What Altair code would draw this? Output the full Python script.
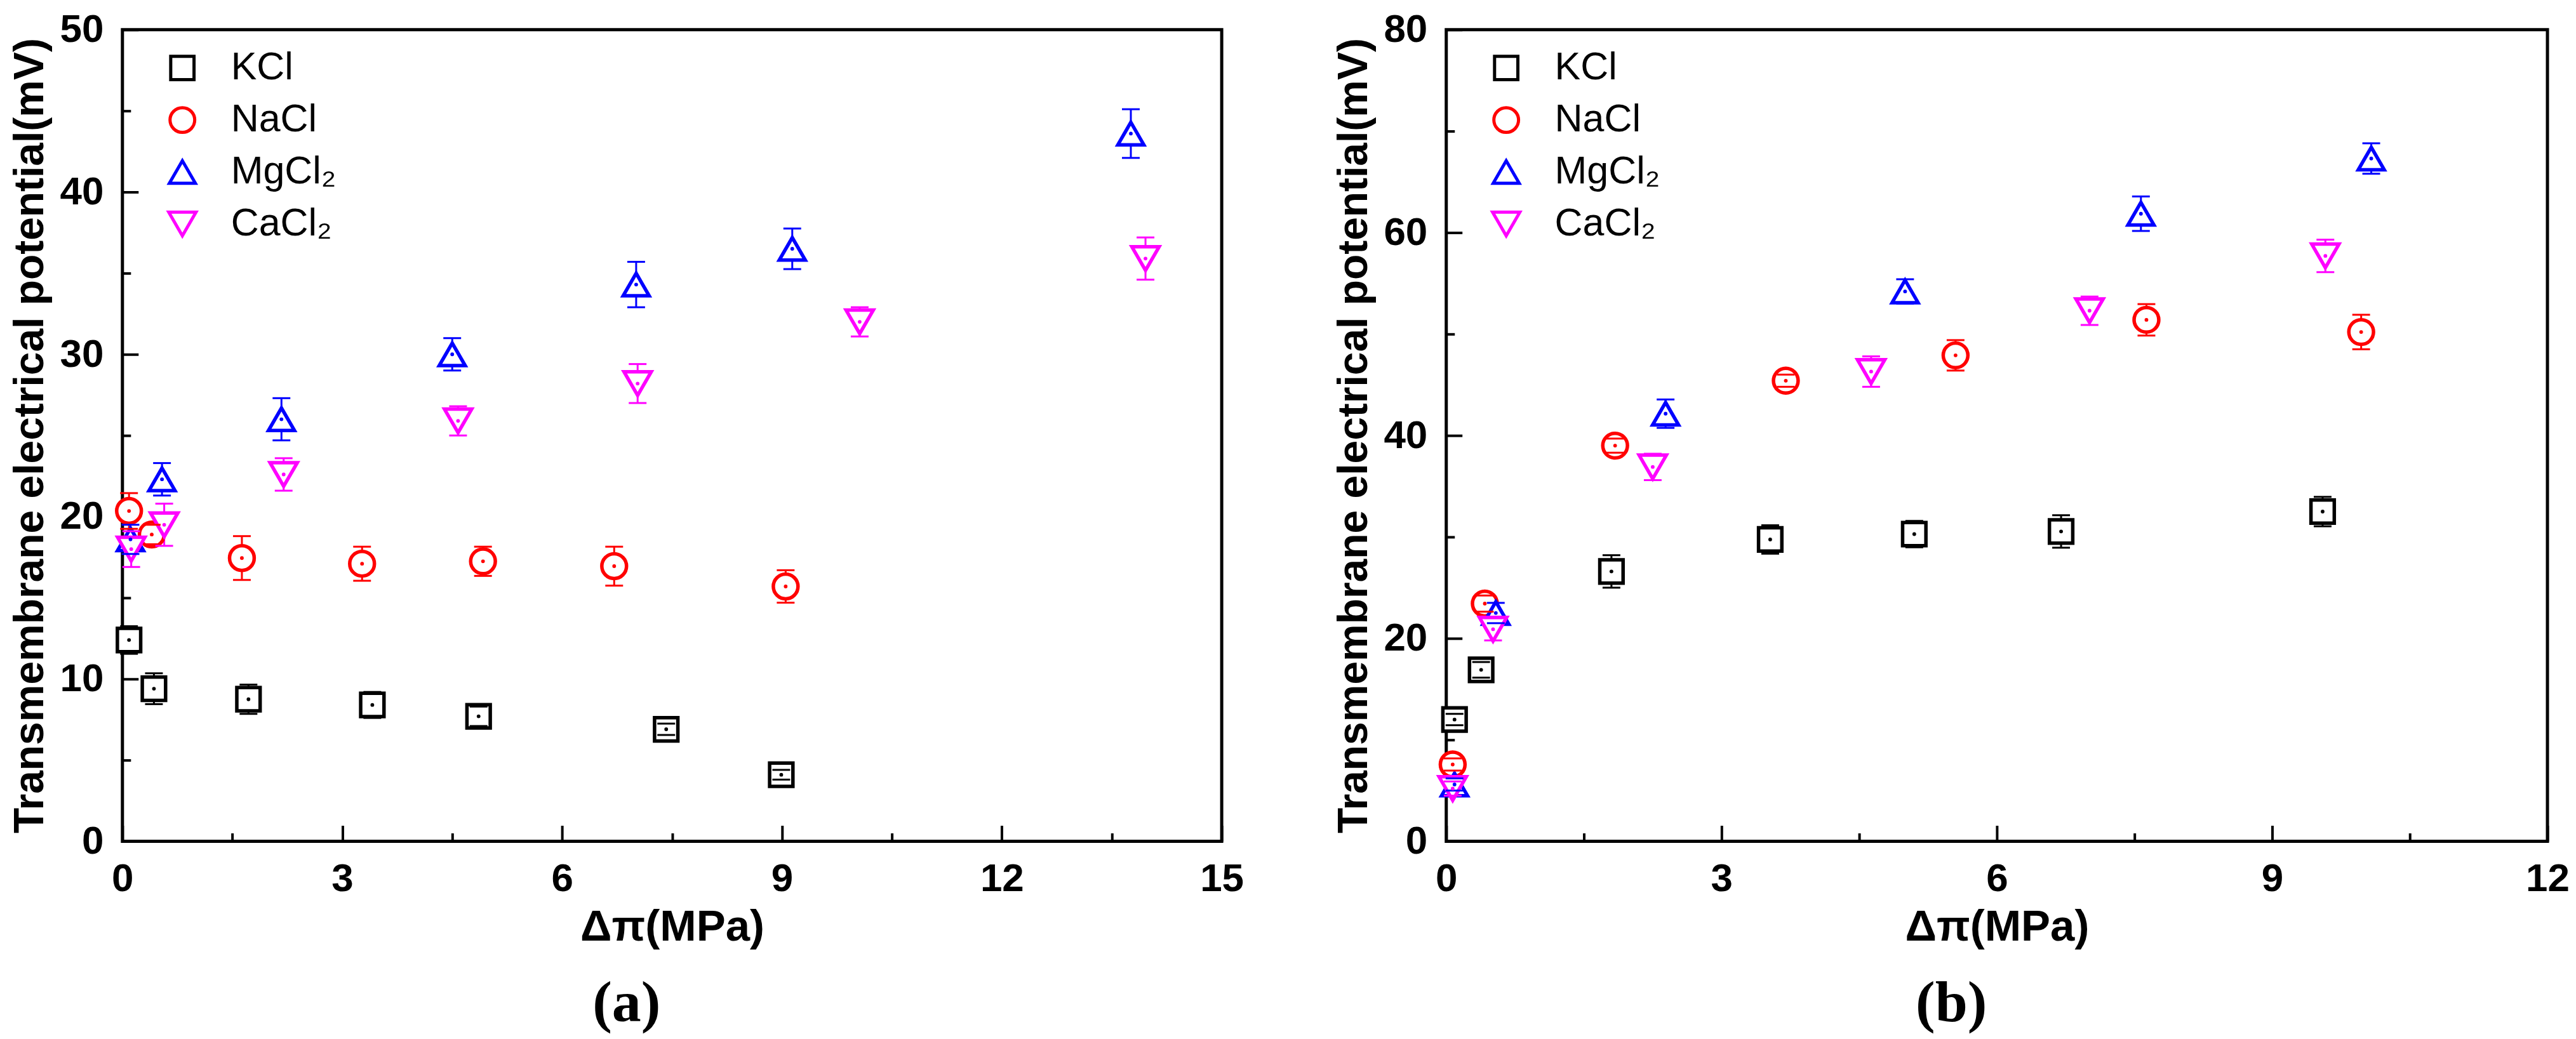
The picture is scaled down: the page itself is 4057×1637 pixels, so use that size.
import altair as alt
import pandas as pd

# ---------------- series definitions ----------------
SERIES = ["KCl", "NaCl", "MgCl₂", "CaCl₂"]
COLORS = ["#000000", "#FF0000", "#0000FF", "#FF00FF"]
SHAPES = ["square", "circle", "triangle-up", "triangle-down"]
SIZES = [1350, 1850, 2550, 2550]

# ---------------- panel (a) ----------------
a_kcl_x = [0.09, 0.43, 1.72, 3.41, 4.86, 7.42, 8.99]
a_kcl_y = [12.4, 9.4, 8.75, 8.4, 7.7, 6.9, 4.1]
a_kcl_e = [0.85, 0.95, 0.9, 0.8, 0.6, 0.35, 0.3]

a_nacl_x = [0.09, 0.40, 1.63, 3.27, 4.92, 6.71, 9.05]
a_nacl_y = [20.35, 18.9, 17.45, 17.1, 17.25, 16.95, 15.7]
a_nacl_e = [1.1, 0.6, 1.35, 1.05, 0.9, 1.2, 1.0]

a_mgcl_x = [0.11, 0.54, 2.17, 4.50, 7.01, 9.14, 13.76]
a_mgcl_y = [18.6, 22.3, 26.0, 30.0, 34.3, 36.5, 43.6]
a_mgcl_e = [0.9, 1.0, 1.3, 1.0, 1.4, 1.25, 1.5]

a_cacl_x = [0.12, 0.57, 2.20, 4.58, 7.03, 10.06, 13.96]
a_cacl_y = [18.0, 19.5, 22.6, 25.9, 28.2, 32.0, 35.9]
a_cacl_e = [1.1, 1.3, 1.0, 0.9, 1.2, 0.9, 1.3]

# ---------------- panel (b) ----------------
b_kcl_x = [0.09, 0.38, 1.80, 3.53, 5.10, 6.70, 9.55]
b_kcl_y = [12.0, 16.9, 26.6, 29.75, 30.28, 30.54, 32.5]
b_kcl_e = [0.56, 0.77, 1.6, 1.4, 1.3, 1.6, 1.45]

b_nacl_x = [0.07, 0.42, 1.84, 3.70, 5.55, 7.63, 9.97]
b_nacl_y = [7.57, 23.43, 39.0, 45.4, 47.9, 51.4, 50.2]
b_nacl_e = [0.6, 0.8, 0.7, 0.6, 1.5, 1.55, 1.7]

b_mgcl_x = [0.09, 0.54, 2.39, 5.00, 7.57, 10.08]
b_mgcl_y = [5.6, 22.5, 42.15, 54.2, 61.86, 67.3]
b_mgcl_e = [0.6, 1.0, 1.4, 1.2, 1.7, 1.5]

b_cacl_x = [0.07, 0.51, 2.25, 4.63, 7.01, 9.58]
b_cacl_y = [5.2, 20.9, 36.9, 46.3, 52.3, 57.7]
b_cacl_e = [0.7, 1.1, 1.3, 1.5, 1.4, 1.6]

# ---------------- axis ticks ----------------
a_x_major = [0, 3, 6, 9, 12, 15]
a_x_minor = [1.5, 4.5, 7.5, 10.5, 13.5]
a_y_major = [0, 10, 20, 30, 40, 50]
a_y_minor = [5, 15, 25, 35, 45]

b_x_major = [0, 3, 6, 9, 12]
b_x_minor = [1.5, 4.5, 7.5, 10.5]
b_y_major = [0, 20, 40, 60, 80]
b_y_minor = [10, 30, 50, 70]

X_TITLE = "Δπ(MPa)"
Y_TITLE = "Transmembrane electrical potential(mV)"

FONT = "Liberation Sans"
H = 1280


def make_df(groups):
    rows = []
    for name, xs, ys, es in groups:
        for x, y, e in zip(xs, ys, es):
            rows.append({"series": name, "x": x, "y": y, "lo": y - e, "hi": y + e})
    return pd.DataFrame(rows)


df_a = make_df([
    ("KCl", a_kcl_x, a_kcl_y, a_kcl_e),
    ("NaCl", a_nacl_x, a_nacl_y, a_nacl_e),
    ("MgCl₂", a_mgcl_x, a_mgcl_y, a_mgcl_e),
    ("CaCl₂", a_cacl_x, a_cacl_y, a_cacl_e),
])
df_b = make_df([
    ("KCl", b_kcl_x, b_kcl_y, b_kcl_e),
    ("NaCl", b_nacl_x, b_nacl_y, b_nacl_e),
    ("MgCl₂", b_mgcl_x, b_mgcl_y, b_mgcl_e),
    ("CaCl₂", b_cacl_x, b_cacl_y, b_cacl_e),
])


def panel(df, W, xmax, ymax, xmaj, xmin, ymaj, ymin, caption):
    xs = alt.Scale(domain=[0, xmax], nice=False, zero=False)
    ys = alt.Scale(domain=[0, ymax], nice=False, zero=False)
    stroke_enc = alt.Stroke("series:N", scale=alt.Scale(domain=SERIES, range=COLORS), legend=None)
    fill_enc = alt.Fill("series:N", scale=alt.Scale(domain=SERIES, range=COLORS), legend=None)

    main_x = alt.Axis(orient="bottom", values=xmaj, format="d", ticks=False, domain=False, grid=False,
                      labelFont=FONT, labelFontSize=62, labelFontWeight="bold", labelColor="black",
                      labelPadding=29, labelFlush=False, labelOverlap=False,
                      title=X_TITLE, titleFont=FONT, titleFontSize=69, titleFontWeight="bold",
                      titleColor="black", titlePadding=10, minExtent=91, maxExtent=91)
    main_y = alt.Axis(orient="left", values=ymaj, format="d", ticks=False, domain=False, grid=False,
                      labelFont=FONT, labelFontSize=62, labelFontWeight="bold", labelColor="black",
                      labelPadding=30, labelFlush=False, labelOverlap=False,
                      title=Y_TITLE, titleFont=FONT, titleFontSize=66, titleFontWeight="bold",
                      titleColor="black", titlePadding=12, minExtent=99, maxExtent=99)

    def tick_axis_x(vals, size):
        return alt.Axis(orient="top", offset=-H, values=vals, labels=False, domain=False, grid=False,
                        ticks=True, tickSize=size, tickWidth=4, tickColor="black", title=None)

    def tick_axis_y(vals, size):
        return alt.Axis(orient="right", offset=-W, values=vals, labels=False, domain=False, grid=False,
                        ticks=True, tickSize=size, tickWidth=4, tickColor="black", title=None)

    base = alt.Chart(df)

    rules = base.mark_rule(strokeWidth=3, opacity=1).encode(
        x=alt.X("x:Q", scale=xs, axis=main_x),
        y=alt.Y("lo:Q", scale=ys, axis=main_y),
        y2="hi:Q",
        stroke=stroke_enc,
    )

    leg = alt.Legend(orient="none", legendX=64, legendY=30, title=None, padding=0,
                     labelFont=FONT, labelFontSize=61, labelColor="black", labelOffset=46,
                     labelLimit=500, rowPadding=20, symbolStrokeWidth=5)
    pts = base.mark_point(filled=False, fill="white", strokeWidth=5.5, opacity=1).encode(
        x=alt.X("x:Q", scale=xs, axis=None),
        y=alt.Y("y:Q", scale=ys, axis=None),
        color=alt.Color("series:N", scale=alt.Scale(domain=SERIES, range=COLORS), legend=leg),
        shape=alt.Shape("series:N", scale=alt.Scale(domain=SERIES, range=SHAPES), legend=leg),
        size=alt.Size("series:N", scale=alt.Scale(domain=SERIES, range=SIZES), legend=leg),
    )

    cap_hi = base.mark_tick(orient="horizontal", size=28, thickness=3, opacity=1).encode(
        x=alt.X("x:Q", scale=xs, axis=tick_axis_x(xmaj, 25)),
        y=alt.Y("hi:Q", scale=ys, axis=tick_axis_y(ymaj, 25)),
        fill=fill_enc,
    )
    cap_lo = base.mark_tick(orient="horizontal", size=28, thickness=3, opacity=1).encode(
        x=alt.X("x:Q", scale=xs, axis=tick_axis_x(xmin, 13)),
        y=alt.Y("lo:Q", scale=ys, axis=tick_axis_y(ymin, 13)),
        fill=fill_enc,
    )

    dots = base.mark_point(filled=True, shape="circle", size=34, opacity=1).encode(
        x=alt.X("x:Q", scale=xs, axis=None),
        y=alt.Y("y:Q", scale=ys, axis=None),
        fill=fill_enc,
    )

    return alt.layer(rules, pts, cap_hi, cap_lo, dots).resolve_axis(
        x="independent", y="independent"
    ).properties(
        width=W, height=H,
        title=alt.TitleParams(caption, orient="bottom", anchor="middle", frame="bounds",
                              font="Liberation Serif", fontSize=92, fontWeight="bold",
                              color="black", offset=41),
    )


pa = panel(df_a, 1733, 15, 50, a_x_major, a_x_minor, a_y_major, a_y_minor, "(a)")
pb = panel(df_b, 1736, 12, 80, b_x_major, b_x_minor, b_y_major, b_y_minor, "(b)")

chart = alt.hconcat(pa, pb, spacing=136).resolve_scale(
    color="independent", shape="independent", size="independent"
).properties(
    padding={"left": 4, "top": 4, "right": 0, "bottom": 0}, background="white"
).configure_view(stroke="black", strokeWidth=5)

chart.save("out.html", embed_options={"renderer": "svg", "actions": False})
